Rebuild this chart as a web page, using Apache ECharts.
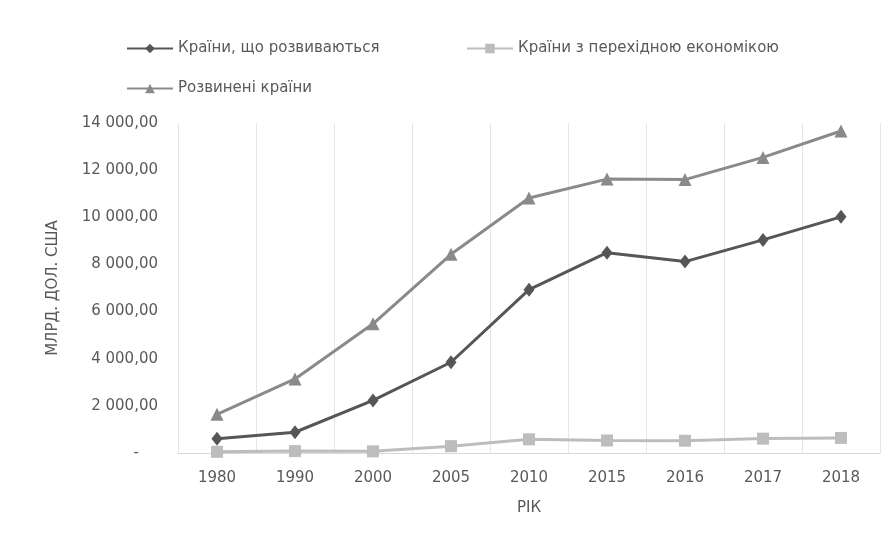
<!DOCTYPE html>
<html>
<head>
<meta charset="utf-8">
<script src="https://cdn.jsdelivr.net/npm/echarts@6/dist/echarts.min.js"></script>
<style>
html,body{margin:0;padding:0;background:#fff;}
#c{width:893px;height:542px;}
</style>
</head>
<body>
<div id="c"></div>
<script>
const years = ['1980','1990','2000','2005','2010','2015','2016','2017','2018'];
const developing = [600, 880, 2230, 3850, 6930, 8500, 8120, 9040, 10020];
const transition = [50, 80, 70, 290, 580, 530, 520, 610, 640];
const developed = [1640, 3140, 5480, 8430, 10820, 11620, 11600, 12540, 13660];
const seriesNames = ['Країни, що розвиваються', 'Країни з перехідною економікою', 'Розвинені країни'];
const yTicks = [0, 2000, 4000, 6000, 8000, 10000, 12000, 14000];

const font = 'DejaVu Sans';
const txt = '#595959';

function fmt(v) {
  if (v === 0) return '-    ';
  const s = String(Math.round(v)).replace(/\B(?=(\d{3})+(?!\d))/g, ' ');
  return s + ',00';
}

const chart = echarts.init(document.getElementById('c'), null, {renderer: 'canvas'});
const legendBase = {
  itemWidth: 46, itemHeight: 12, itemGap: 10,
  textStyle: {color: txt, fontFamily: font, fontSize: 15}
};
chart.setOption({
  animation: false,
  backgroundColor: '#fff',
  legend: [
    Object.assign({}, legendBase, {data: [seriesNames[0]], left: 121, top: 36}),
    Object.assign({}, legendBase, {data: [seriesNames[1]], left: 461, top: 36}),
    Object.assign({}, legendBase, {data: [seriesNames[2]], left: 121, top: 76})
  ],
  grid: {left: 178, right: 13, top: 123, bottom: 89, containLabel: false},
  xAxis: {
    type: 'category',
    data: years,
    boundaryGap: true,
    name: 'РІК',
    nameLocation: 'middle',
    nameGap: 48,
    nameTextStyle: {color: txt, fontFamily: font, fontSize: 15},
    axisLine: {show: true, lineStyle: {color: '#d9d9d9', width: 1}},
    axisTick: {show: false},
    axisLabel: {color: txt, fontFamily: font, fontSize: 15, margin: 18},
    splitLine: {show: true, lineStyle: {color: '#e6e6e6', width: 1}}
  },
  yAxis: {
    type: 'value',
    min: 0, max: 14000, interval: 2000,
    name: 'МЛРД. ДОЛ. США',
    nameLocation: 'middle',
    nameGap: 117,
    nameRotate: 90,
    nameTextStyle: {color: txt, fontFamily: font, fontSize: 15},
    axisLine: {show: false},
    axisTick: {show: false},
    splitLine: {show: false},
    axisLabel: {color: txt, fontFamily: font, fontSize: 15, margin: 20, formatter: fmt}
  },
  series: [
    {
      name: seriesNames[0], type: 'line', data: developing,
      symbol: 'diamond', symbolSize: [11, 14],
      lineStyle: {color: '#565656', width: 3},
      itemStyle: {color: '#565656'}
    },
    {
      name: seriesNames[1], type: 'line', data: transition,
      symbol: 'rect', symbolSize: 12,
      lineStyle: {color: '#bdbdbd', width: 3},
      itemStyle: {color: '#bdbdbd'}
    },
    {
      name: seriesNames[2], type: 'line', data: developed,
      symbol: 'triangle', symbolSize: 13,
      lineStyle: {color: '#8a8a8a', width: 3},
      itemStyle: {color: '#8a8a8a'}
    }
  ]
});
</script>
</body>
</html>
